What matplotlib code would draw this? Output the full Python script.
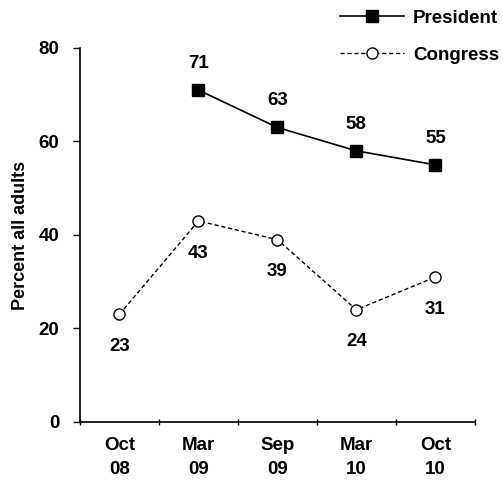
import matplotlib
matplotlib.use("Agg")
import matplotlib.pyplot as plt

plt.rcParams['font.family'] = ['Liberation Sans', 'DejaVu Sans']
plt.rcParams['font.weight'] = 'bold'

periods = ["Oct\n08", "Mar\n09", "Sep\n09", "Mar\n10", "Oct\n10"]
president = [None, 71, 63, 58, 55]
congress = [23, 43, 39, 24, 31]

fig = plt.figure(figsize=(5.03, 4.80), dpi=100)
ax = fig.add_axes([0.159, 0.121, 0.785, 0.779])

xs = list(range(len(periods)))
px = [x for x, v in zip(xs, president) if v is not None]
py = [v for v in president if v is not None]

ax.plot(px, py, color="black", lw=1.2, marker="s", ms=8,
        mfc="black", mec="black", label="President")
ax.plot(xs, congress, color="black", lw=1.0, ls=(0, (3, 2)), marker="o", ms=8,
        mfc="white", mec="black", mew=1.0, label="Congress")

for x, v in zip(px, py):
    ax.annotate(str(v), (x, v), xytext=(0, 13), textcoords="offset points",
                ha="center", va="bottom", fontsize=13.5, fontweight="bold")
for x, v in zip(xs, congress):
    ax.annotate(str(v), (x, v), xytext=(0, -17), textcoords="offset points",
                ha="center", va="top", fontsize=13.5, fontweight="bold")

ax.set_xlim(-0.5, len(periods) - 0.5)
ax.set_ylim(0, 80)
ax.set_yticks([0, 20, 40, 60, 80])
ax.set_xticks(xs)
ax.set_xticklabels(periods, fontsize=13.5, fontweight="bold", linespacing=1.5)
ax.set_xticks([x - 0.5 for x in xs] + [len(periods) - 0.5], minor=True)
ax.tick_params(axis="x", which="major", length=0, pad=11)
ax.tick_params(axis="x", which="minor", length=5, direction="inout", width=1)
ax.tick_params(axis="y", labelsize=13.5, length=5, width=1, pad=10)
for lab in ax.get_yticklabels():
    lab.set_fontweight("bold")
ax.set_ylabel("Percent all adults", fontsize=13, fontweight="bold", labelpad=7)

for side in ["top", "right"]:
    ax.spines[side].set_visible(False)
for side in ["left", "bottom"]:
    ax.spines[side].set_linewidth(1.2)

leg = fig.legend(loc="upper right", bbox_to_anchor=(1.026, 1.015), frameon=False,
                 handlelength=3.4, labelspacing=1.05, handletextpad=0.5,
                 prop={"size": 13.5, "weight": "bold"})

fig.savefig("out.png", dpi=100)
